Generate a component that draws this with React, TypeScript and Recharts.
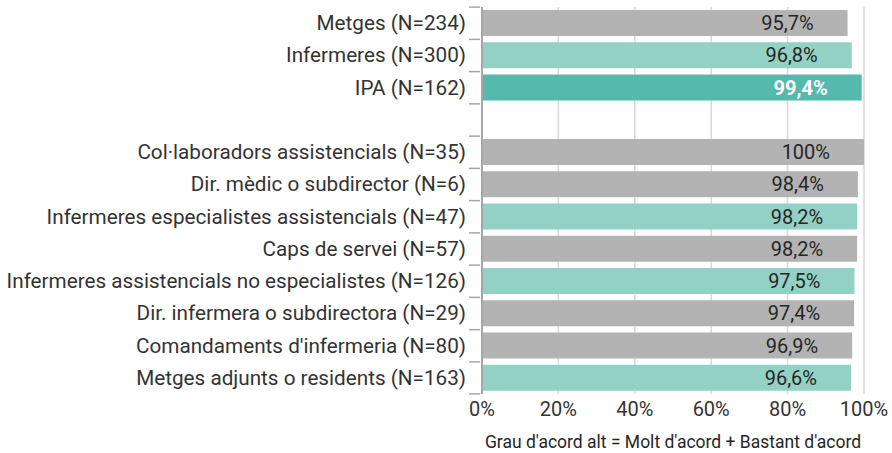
import React from 'react';
import {BarChart, Bar, XAxis, YAxis, CartesianGrid, Cell, LabelList} from 'recharts';

const categories = [
    'Metges (N=234)',
    'Infermeres (N=300)',
    'IPA (N=162)',
    ' ',
    'Col·laboradors assistencials (N=35)',
    'Dir. mèdic o subdirector (N=6)',
    'Infermeres especialistes assistencials (N=47)',
    'Caps de servei (N=57)',
    'Infermeres assistencials no especialistes (N=126)',
    'Dir. infermera o subdirectora (N=29)',
    "Comandaments d'infermeria (N=80)",
    'Metges adjunts o residents (N=163)',
];
const values = [95.7, 96.8, 99.4, null, 100, 98.4, 98.2, 98.2, 97.5, 97.4, 96.9, 96.6];
const groups = ['gray', 'light', 'dark', 'gray', 'gray', 'gray', 'light', 'gray', 'light', 'gray', 'gray', 'light'];
const xTicks = [0, 20, 40, 60, 80, 100];

const COLORS: Record<string, string> = {gray: '#b3b3b3', light: '#93d1c4', dark: '#55b9ad'};
const FONT = 'Roboto, "Noto Sans", sans-serif';

const data = categories.map((name, i) => ({name, value: values[i], group: groups[i]}));

const CategoryTick = (props: any) => {
    const {x, y, payload} = props;
    return (
        <g>
            <text x={x - 8} y={y} dy={7} textAnchor="end" fill="#333333" fontSize={20.7} fontFamily={FONT}>
                {payload.value}
            </text>
            <line x1={x - 5} x2={x + 6} y1={y - 16} y2={y - 16} stroke="#a6a6a6" strokeWidth={1.5}/>
            {payload.index === categories.length - 1 && (
                <line x1={x - 5} x2={x + 6} y1={y + 16} y2={y + 16} stroke="#a6a6a6" strokeWidth={1.5}/>
            )}
        </g>
    );
};

const ValueLabel = (props: any) => {
    const {x, y, width, height, value, index} = props;
    if (value == null) return null;
    const dark = groups[index] === 'dark';
    const text = (value % 1 === 0 ? String(value) : value.toFixed(1).replace('.', ',')) + '%';
    return (
        <text x={x + width - 34} y={y + height / 2} dy={7} textAnchor="end"
              fill={dark ? '#ffffff' : '#262626'} fontWeight={dark ? 700 : 400}
              fontSize={20} fontFamily={FONT}>
            {text}
        </text>
    );
};

export default function App() {
    return (
        <div style={{position: 'absolute', left: 0, top: 0, width: 892, height: 453, background: '#fff'}}>
            <BarChart width={892} height={453} data={data} layout="vertical"
                      margin={{top: 7, right: 28, left: 0, bottom: 0}}>
                <CartesianGrid horizontal={false} stroke="#d9d9d9" strokeWidth={1.5}/>
                <XAxis type="number" domain={[0, 100]} ticks={xTicks} tickFormatter={(v) => v + '%'}
                       axisLine={false} tickLine={false} height={59} interval={0}
                       tick={{fill: '#333333', fontSize: 20, fontFamily: FONT}} tickMargin={2}
                       label={{value: "Grau d'acord alt = Molt d'acord + Bastant d'acord", position: 'insideBottom',
                           offset: 5, fill: '#262626', fontSize: 17.5, fontFamily: FONT}}/>
                <YAxis type="category" dataKey="name" width={482} interval={0}
                       axisLine={{stroke: '#a6a6a6', strokeWidth: 2}} tickLine={false} tick={<CategoryTick/>}/>
                <Bar dataKey="value" barSize={26} isAnimationActive={false}>
                    {data.map((d, i) => (
                        <Cell key={i} fill={COLORS[d.group]}/>
                    ))}
                    <LabelList dataKey="value" content={<ValueLabel/>}/>
                </Bar>
            </BarChart>
        </div>
    );
}
